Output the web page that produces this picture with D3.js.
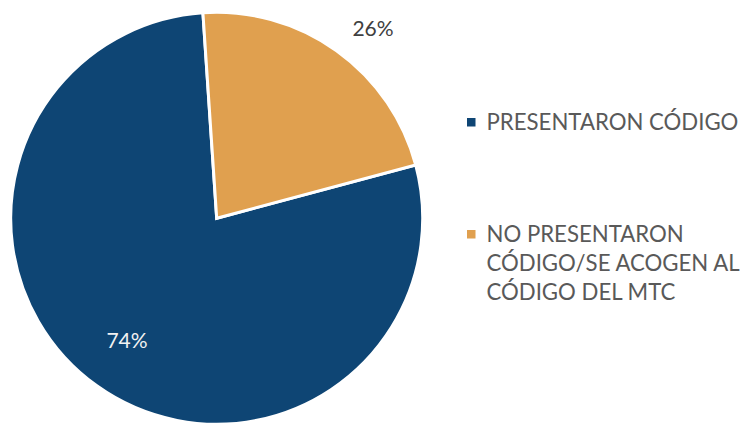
<!DOCTYPE html>
<html><head><meta charset="utf-8">
<script src="https://cdn.jsdelivr.net/npm/d3@7"></script>
<style>html,body{margin:0;padding:0;background:#fff}svg{display:block}</style>
</head><body>
<svg id="chart" width="748" height="423"></svg>
<script>
const categories = ["PRESENTARON CÓDIGO", "NO PRESENTARON CÓDIGO/SE ACOGEN AL CÓDIGO DEL MTC"];
const legendLines = [["PRESENTARON CÓDIGO"], ["NO PRESENTARON", "CÓDIGO/SE ACOGEN AL", "CÓDIGO DEL MTC"]];
const sliceValues = [78.1, 21.9];
const sliceLabels = ["74%", "26%"];
const colors = ["#0E4574", "#E0A04F"];

const svg = d3.select("#chart");
const cx = 216.7, cy = 218.3, r = 206;
const font = "Lato, 'Open Sans', sans-serif";

const pie = d3.pie().sort(null)
  .startAngle(75 * Math.PI / 180)
  .endAngle(435 * Math.PI / 180);
const arcs = pie(sliceValues);
const arc = d3.arc().innerRadius(0).outerRadius(r);

const g = svg.append("g").attr("transform", `translate(${cx},${cy})`);
g.selectAll("path").data(arcs).join("path")
  .attr("d", arc)
  .attr("fill", (d, i) => colors[i])
  .attr("stroke", "#fff")
  .attr("stroke-width", 3)
  .attr("stroke-linejoin", "miter");

// data labels
const labelPos = [[127 - cx, 340 - cy], [373 - cx, 27 - cy]];
g.selectAll("text.lbl").data(arcs).join("text")
  .attr("class", "lbl")
  .attr("x", (d, i) => labelPos[i][0])
  .attr("y", (d, i) => labelPos[i][1])
  .attr("text-anchor", "middle")
  .attr("dominant-baseline", "central")
  .attr("font-family", font)
  .attr("font-size", 21)
  .attr("fill", (d, i) => i === 0 ? "#F2F2F2" : "#404040")
  .text((d, i) => sliceLabels[i]);

// legend
const legendY = [122.5, 234.5];
const lg = svg.append("g");
categories.forEach((c, i) => {
  lg.append("rect").attr("x", 467).attr("y", legendY[i] - 4.5)
    .attr("width", 8.5).attr("height", 8.5).attr("fill", colors[i]);
  const t = lg.append("text").attr("x", 486.5).attr("y", legendY[i] + 7.8)
    .attr("font-family", font).attr("font-size", 22.2).attr("fill", "#595959");
  legendLines[i].forEach((ln, j) => {
    t.append("tspan").attr("x", 486.5).attr("dy", j === 0 ? 0 : 29).text(ln);
  });
});
</script>
</body></html>
